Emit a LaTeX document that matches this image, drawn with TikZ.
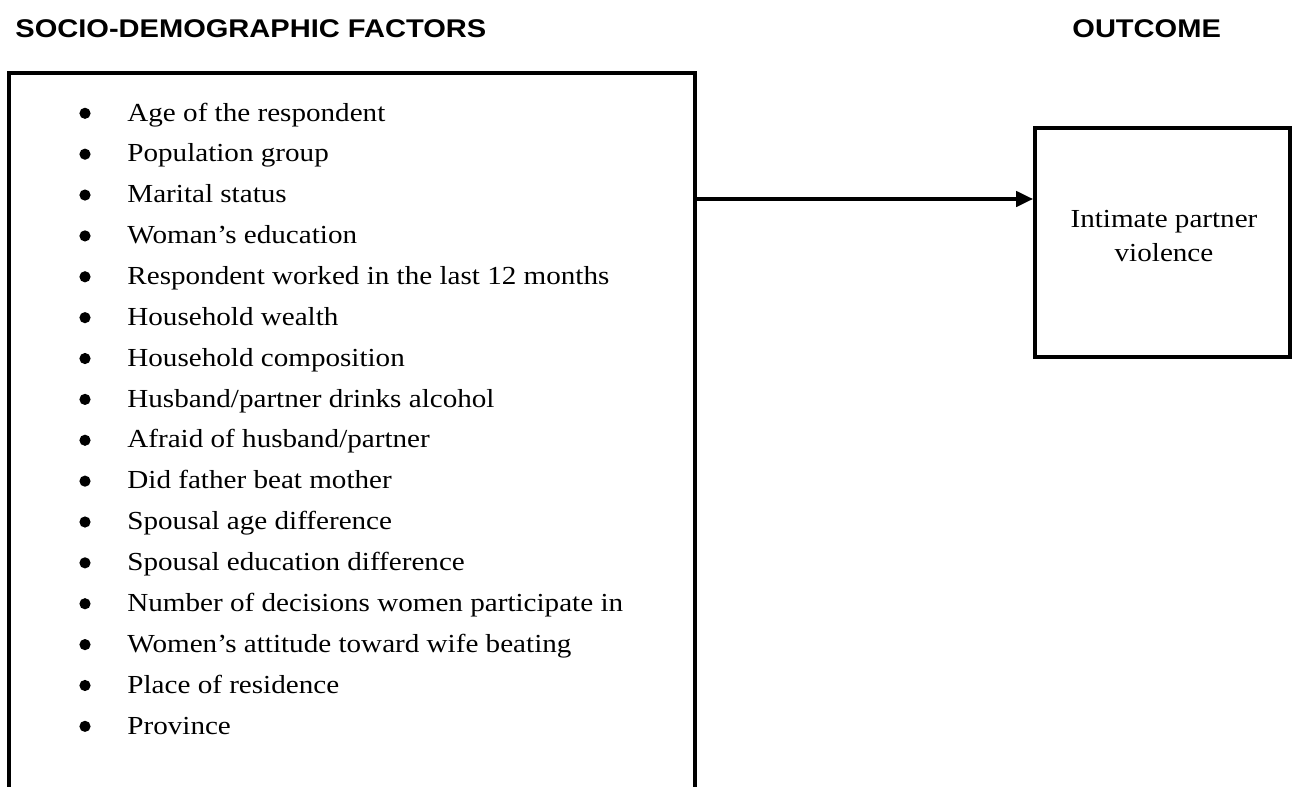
\documentclass[tikz,border=0pt]{standalone}
\usepackage{fontspec}
\setmainfont{Liberation Serif}[FakeStretch=1.12]
\newfontfamily\headfont{Liberation Sans}[FakeStretch=1.135]
\usetikzlibrary{arrows.meta}

\begin{document}
\begin{tikzpicture}[
  x=0.5pt,y=-0.5pt,
  heading/.style={font=\headfont\fontsize{12.8}{16}\selectfont\bfseries,
    inner sep=0pt,anchor=base west},
  entry/.style={font=\fontsize{13}{17}\selectfont,inner sep=0pt,anchor=base west},
  frame/.style={draw=black,line width=1.8pt,inner sep=0pt},
  flow/.style={-{Triangle[length=8.5pt,width=7.5pt]},line width=2pt,draw=black}
]

\useasboundingbox (0,0) rectangle (1292,787);

% column headings
\node[heading] (factorshead) at (15,37) {SOCIO-DEMOGRAPHIC FACTORS};
\node[heading] (outcomehead) at (1072,37) {OUTCOME};

% factor box (runs past the lower edge)
\node[frame,minimum width=343pt,minimum height=378.5pt] (factors)
  at (352,451.5) {};

\foreach \txt [count=\i from 0] in {Age of the respondent,
    Population group, Marital status, Woman’s education,
    Respondent worked in the last 12 months, Household wealth,
    Household composition, Husband/partner drinks alcohol,
    Afraid of husband/partner, Did father beat mother,
    Spousal age difference, Spousal education difference,
    Number of decisions women participate in,
    Women’s attitude toward wife beating, Place of residence, Province}
{
  \fill (85,113.3+40.87*\i) circle (2.8pt);
  \node[entry] (item\i) at (127,121+40.87*\i) {\txt};
}

% outcome box
\node[frame,minimum width=127.5pt,minimum height=114.5pt] (outcome)
  at (1162.5,242.5) {};
\node[entry,anchor=center,align=center] (ipv) at (1164,236.5)
  {Intimate partner\\violence};

\coordinate (tap) at (factors.east |- 0,199);
\draw[flow] (tap) -- (tap -| outcome.west);

\end{tikzpicture}
\end{document}
